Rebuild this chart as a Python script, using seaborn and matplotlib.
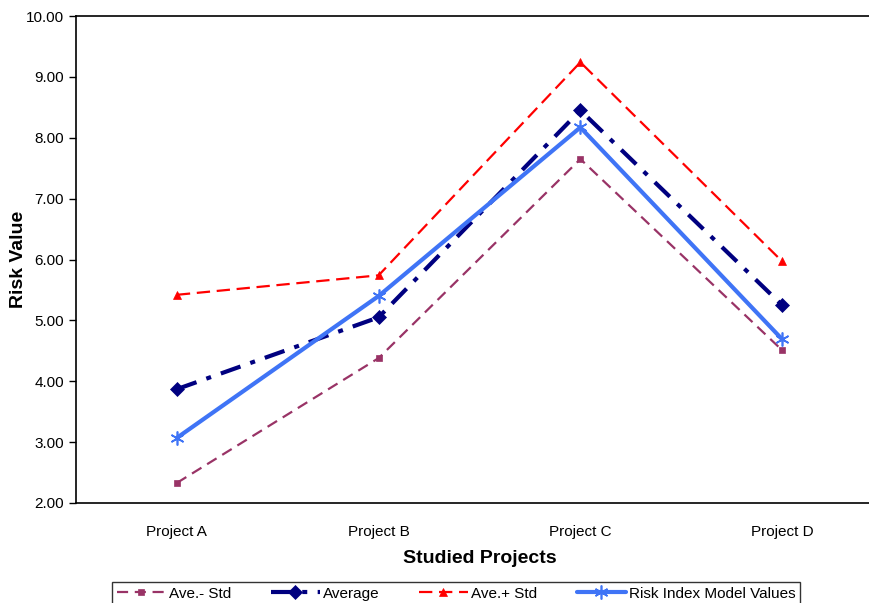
import matplotlib
matplotlib.use("Agg")
import matplotlib.pyplot as plt
import seaborn as sns
import pandas as pd
from matplotlib.ticker import FixedLocator

sns.set_style("white")
plt.rcParams['font.family'] = ['Liberation Sans', 'DejaVu Sans']
plt.rcParams['text.color'] = 'black'
plt.rcParams['axes.labelcolor'] = 'black'
plt.rcParams['xtick.color'] = 'black'
plt.rcParams['ytick.color'] = 'black'

projects = ["Project A", "Project B", "Project C", "Project D"]
ave_minus_std = [2.33, 4.38, 7.65, 4.51]
average = [3.87, 5.05, 8.45, 5.25]
ave_plus_std = [5.42, 5.74, 9.24, 5.97]
risk_index = [3.07, 5.40, 8.17, 4.69]

series = [
    ("Ave.- Std", ave_minus_std, "#993366", "s", 5, 1.6, (0, (5, 3))),
    ("Average", average, "#000080", "D", 7, 3.0, (0, (5, 2.5, 1.2, 2.5))),
    ("Ave.+ Std", ave_plus_std, "#FF0000", "^", 6, 1.6, (0, (6, 3))),
    ("Risk Index Model Values", risk_index, "#3F74F6", (6, 2, 0), 10, 3.0, "-"),
]

fig = plt.figure(figsize=(8.69, 6.03), dpi=100)
ax = fig.add_axes([76 / 869, 100 / 603, 807 / 869, 487 / 603])

for name, vals, color, marker, ms, lw, ls in series:
    df = pd.DataFrame({"x": range(len(projects)), "y": vals})
    sns.lineplot(data=df, x="x", y="y", ax=ax, color=color, marker=marker,
                 markersize=ms, linewidth=lw, linestyle=ls, label=name,
                 markeredgecolor=color, markeredgewidth=1.2 if marker == (6, 2, 0) else 0.5)

ax.set_xlim(-0.5, len(projects) - 0.5)
ax.set_ylim(2, 10)
ax.set_yticks([2, 3, 4, 5, 6, 7, 8, 9, 10])
ax.set_yticklabels([f"{v:.2f}" for v in range(2, 11)], fontsize=11)
ax.set_xticks(range(len(projects)))
ax.set_xticklabels(projects, fontsize=11)
ax.xaxis.set_minor_locator(FixedLocator([i - 0.5 for i in range(len(projects) + 1)]))
ax.tick_params(axis="x", which="major", length=0, pad=16)
ax.tick_params(axis="x", which="minor", length=5, width=1, direction="out", color="black")
ax.tick_params(axis="y", length=5, width=1, direction="out", color="black", left=True)

for s in ax.spines.values():
    s.set_color("black")
    s.set_linewidth(1.2)

ax.set_xlabel("Studied Projects", fontsize=14, fontweight="bold", labelpad=8)
ax.set_ylabel("Risk Value", fontsize=14, fontweight="bold", labelpad=-1)

leg = ax.legend(loc="upper center", bbox_to_anchor=(456 / 869, 21 / 603),
                bbox_transform=fig.transFigure, ncol=4, fontsize=11,
                frameon=True, fancybox=False, edgecolor="black",
                borderpad=0.3, columnspacing=2.6, handlelength=3.2, handletextpad=0.2,
                borderaxespad=0)
leg.get_frame().set_linewidth(1.0)

fig.savefig("out.png", dpi=100)
